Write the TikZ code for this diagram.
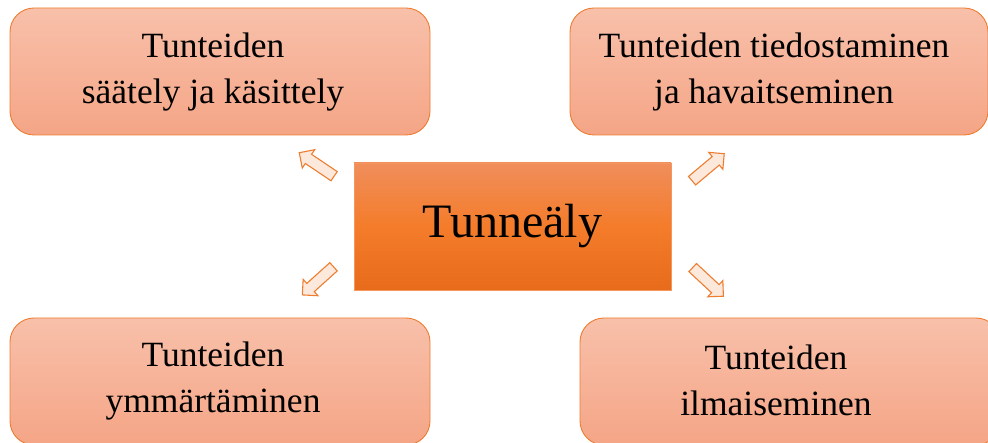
\documentclass[tikz,border=0pt]{standalone}
\usepackage{fontspec}
\setmainfont{Liberation Serif}
\usetikzlibrary{shapes.arrows}
\definecolor{boxtop}{RGB}{248,192,170}
\definecolor{boxbot}{RGB}{245,165,134}
\definecolor{edgeor}{RGB}{237,125,49}
\definecolor{ctop}{RGB}{240,142,92}
\definecolor{cmid}{RGB}{244,124,42}
\definecolor{cbot}{RGB}{231,107,27}
\definecolor{cedge}{RGB}{245,150,95}
\definecolor{arrfill}{RGB}{253,233,219}
\tikzset{
  outerbox/.style={draw=edgeor, line width=0.9pt, rounded corners=24pt,
    top color=boxtop, bottom color=boxbot, minimum width=420pt, minimum height=127pt, inner sep=0pt},
  boxtext/.style={align=center, font=\fontsize{35.5}{46}\selectfont, inner sep=0pt},
  centerbox/.style={draw=cedge, line width=0.8pt, top color=ctop, bottom color=cbot, middle color=cmid,
    minimum width=317pt, minimum height=127pt, font=\fontsize{48}{52}\selectfont},
  blockarrow/.style={single arrow, draw=edgeor, fill=arrfill, line width=1.1pt,
    minimum height=42pt, inner sep=5pt, single arrow head extend=5.5pt}
}
\begin{document}
\begin{tikzpicture}[x=1pt,y=-1pt]
\useasboundingbox (0,0) rectangle (988,443);
\clip (0,0) rectangle (988,443);
\node[outerbox] (tl) at (220,71.5) {};
\node[outerbox, minimum width=418pt] (tr) at (779,71.5) {};
\node[outerbox] (bl) at (220,381.5) {};
\node[outerbox] (br) at (790,381.5) {};
\node[boxtext] (tlt) at (213,72) {Tunteiden\\säätely ja käsittely};
\node[boxtext] (trt) at (774,72) {Tunteiden tiedostaminen\\ja havaitseminen};
\node[boxtext] (blt) at (213,381) {Tunteiden\\ymmärtäminen};
\node[boxtext] (brt) at (776,380) {Tunteiden\\ilmaiseminen};
\node[centerbox] (c) at (512.5,226.5) {Tunneäly};
\node[blockarrow, rotate=146] (a1) at (319,166) {};
\node[blockarrow, rotate=40] (a2) at (706,169) {};
\node[blockarrow, rotate=222] (a3) at (320,279) {};
\node[blockarrow, rotate=-43] (a4) at (706,280) {};
\end{tikzpicture}
\end{document}
